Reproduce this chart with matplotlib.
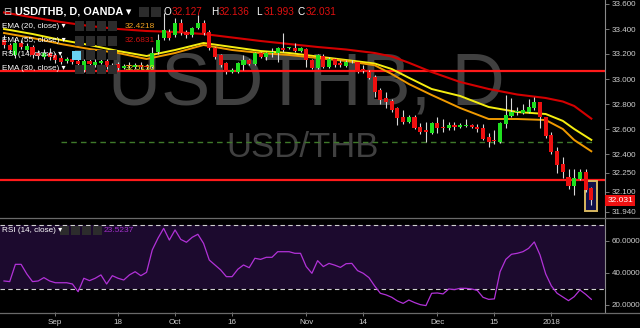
import numpy as np
import matplotlib
matplotlib.use("Agg")
import matplotlib.pyplot as plt
from matplotlib.patches import Rectangle
from matplotlib.lines import Line2D
import matplotlib.transforms as mtransforms

plt.rcParams["font.family"] = ["Liberation Sans", "DejaVu Sans"]

# USD/THB daily candles (bar index = trading day, Aug 21 2017 -> Jan 12 2018)
opens = [33.312, 33.272, 33.192, 33.288, 33.232, 33.256, 33.208, 33.176, 33.208, 33.192,
         33.168, 33.144, 33.160, 33.144, 33.072, 33.144, 33.112, 33.128, 33.144, 33.072,
         33.120, 33.088, 33.112, 33.096, 33.112, 33.104, 33.096, 33.216, 33.328, 33.376,
         33.352, 33.448, 33.376, 33.352, 33.408, 33.448, 33.376, 33.248, 33.192, 33.128,
         33.056, 33.056, 33.112, 33.152, 33.120, 33.208, 33.176, 33.208, 33.208, 33.248,
         33.248, 33.248, 33.224, 33.240, 33.152, 33.088, 33.184, 33.096, 33.160, 33.128,
         33.104, 33.134, 33.136, 33.080, 33.056, 33.016, 32.912, 32.848, 32.824, 32.768,
         32.696, 32.656, 32.696, 32.616, 32.592, 32.568, 32.648, 32.616, 32.608, 32.632,
         32.616, 32.624, 32.632, 32.616, 32.608, 32.536, 32.512, 32.496, 32.640, 32.704,
         32.736, 32.728, 32.736, 32.768, 32.816, 32.696, 32.552, 32.424, 32.320, 32.216,
         32.144, 32.200, 32.256, 32.127]
highs = [33.35, 33.29, 33.33, 33.31, 33.29, 33.27, 33.23, 33.24, 33.25, 33.21,
         33.19, 33.18, 33.17, 33.16, 33.16, 33.17, 33.16, 33.17, 33.16, 33.13,
         33.14, 33.12, 33.14, 33.13, 33.14, 33.12, 33.26, 33.36, 33.528, 33.40,
         33.49, 33.48, 33.39, 33.42, 33.512, 33.47, 33.39, 33.26, 33.20, 33.14,
         33.09, 33.14, 33.19, 33.16, 33.22, 33.22, 33.22, 33.25, 33.26, 33.368,
         33.26, 33.288, 33.26, 33.25, 33.16, 33.20, 33.20, 33.18, 33.17, 33.15,
         33.15, 33.15, 33.14, 33.11, 33.07, 33.03, 32.93, 32.896, 32.84, 32.78,
         32.752, 32.71, 32.71, 32.648, 32.656, 32.66, 32.70, 32.68, 32.66, 32.66,
         32.65, 32.68, 32.64, 32.64, 32.64, 32.57, 32.59, 32.66, 32.876, 32.85,
         32.78, 32.80, 32.84, 32.856, 32.82, 32.70, 32.58, 32.456, 32.38, 32.28,
         32.28, 32.28, 32.28, 32.136]
lows = [33.25, 33.21, 33.17, 33.24, 33.22, 33.17, 33.16, 33.16, 33.15, 33.13,
        33.12, 33.13, 33.12, 33.10, 33.06, 33.10, 33.10, 33.12, 33.08, 33.06,
        33.07, 33.08, 33.09, 33.08, 33.08, 33.08, 33.09, 33.20, 33.31, 33.31,
        33.34, 33.35, 33.33, 33.34, 33.40, 33.35, 33.23, 33.16, 33.10, 33.04,
        33.05, 33.05, 33.07, 33.11, 33.11, 33.17, 33.15, 33.18, 33.136, 33.22,
        33.24, 33.22, 33.22, 33.096, 33.08, 33.08, 33.09, 33.09, 33.10, 33.10,
        33.10, 33.13, 33.05, 33.05, 33.00, 32.86, 32.80, 32.768, 32.74, 32.632,
        32.64, 32.645, 32.60, 32.56, 32.496, 32.56, 32.57, 32.58, 32.59, 32.59,
        32.61, 32.62, 32.61, 32.58, 32.51, 32.46, 32.48, 32.49, 32.61, 32.70,
        32.71, 32.72, 32.73, 32.752, 32.608, 32.53, 32.40, 32.25, 32.21, 32.12,
        32.07, 32.19, 32.10, 31.993]
closes = [33.272, 33.232, 33.288, 33.256, 33.264, 33.192, 33.184, 33.208, 33.176, 33.152,
          33.136, 33.160, 33.136, 33.120, 33.144, 33.120, 33.136, 33.144, 33.096, 33.112,
          33.088, 33.104, 33.104, 33.112, 33.096, 33.096, 33.208, 33.312, 33.392, 33.328,
          33.448, 33.368, 33.352, 33.408, 33.448, 33.368, 33.248, 33.176, 33.112, 33.056,
          33.072, 33.128, 33.152, 33.120, 33.208, 33.176, 33.208, 33.216, 33.248, 33.232,
          33.248, 33.224, 33.248, 33.152, 33.088, 33.192, 33.096, 33.160, 33.112, 33.112,
          33.136, 33.136, 33.056, 33.064, 33.008, 32.896, 32.832, 32.816, 32.752, 32.688,
          32.656, 32.696, 32.608, 32.576, 32.576, 32.648, 32.608, 32.608, 32.632, 32.616,
          32.632, 32.632, 32.616, 32.600, 32.520, 32.496, 32.504, 32.648, 32.712, 32.736,
          32.744, 32.752, 32.776, 32.816, 32.696, 32.544, 32.416, 32.312, 32.256, 32.144,
          32.208, 32.256, 32.112, 32.031]

# EMA lines (bar index, value)
ema_idx = [0, 5, 10, 15, 20, 25, 30, 35, 40, 45, 50, 55, 60, 65, 68, 71, 75, 80, 85, 90, 95, 98, 100, 103]
ema20 = [33.368, 33.328, 33.280, 33.240, 33.208, 33.160, 33.208, 33.272, 33.232, 33.208, 33.192,
         33.168, 33.144, 33.110, 33.040, 32.960, 32.872, 32.768, 32.680, 32.680, 32.672, 32.600,
         32.512, 32.4218]
ema30 = [33.400, 33.360, 33.312, 33.272, 33.224, 33.184, 33.232, 33.288, 33.256, 33.224, 33.208,
         33.180, 33.152, 33.124, 33.080, 33.010, 32.920, 32.864, 32.776, 32.736, 32.720, 32.665,
         32.600, 32.5130]
ema55 = [33.532, 33.493, 33.456, 33.424, 33.400, 33.384, 33.376, 33.360, 33.332, 33.304, 33.280,
         33.256, 33.236, 33.208, 33.180, 33.130, 33.056, 32.976, 32.920, 32.876, 32.848, 32.820,
         32.784, 32.6831]

rsi = [35.0, 34.6, 45.4, 45.4, 39.4, 34.6, 35.0, 37.1, 35.0, 33.9,
       33.9, 33.9, 33.1, 28.3, 36.7, 35.2, 36.7, 38.8, 33.1, 38.3,
       36.7, 35.6, 38.8, 40.8, 38.3, 40.4, 54.4, 61.7, 67.9, 60.6,
       66.9, 61.0, 59.2, 62.3, 64.2, 58.5, 48.1, 45.0, 41.9, 37.7,
       37.7, 42.3, 45.0, 43.3, 49.2, 48.5, 49.8, 49.8, 53.3, 53.3,
       53.3, 52.3, 52.3, 44.0, 39.8, 47.7, 44.0, 46.0, 44.9, 43.5,
       45.8, 46.0, 41.5, 39.8, 37.1, 31.9, 27.3, 26.3, 24.8, 22.5,
       21.0, 23.1, 21.5, 20.2, 19.6, 27.3, 27.5, 26.9, 30.0, 29.6,
       30.4, 30.4, 30.0, 29.1, 24.8, 23.5, 23.8, 40.8, 48.5, 51.7,
       52.3, 53.3, 55.4, 59.4, 51.3, 39.4, 31.9, 27.3, 25.0, 22.7,
       25.2, 29.4, 26.7, 23.5237]

date_labels = ["Sep", "18", "Oct", "16", "Nov", "14", "Dec", "15", "2018"]
date_pos = [9, 20, 30, 40, 53, 63, 76, 86, 96]
price_ticks = [33.6, 33.4, 33.2, 33.0, 32.8, 32.6, 32.4, 32.25, 32.1, 31.94]
rsi_ticks = [20, 40, 60]

level_hi = 33.064
level_lo = 32.195
level_mid = 32.50

BG = "#000000"
TXT = "#cfcfcf"
UP = "#1fe01f"
DOWN = "#ee1010"
W, H = 640, 328


def fx(x):
    return x / W


def fy(y):
    return 1 - y / H


fig = plt.figure(figsize=(6.4, 3.28), dpi=100, facecolor=BG)
ax = fig.add_axes([0, fy(217), fx(605), 217 / H])
axr = fig.add_axes([0, fy(312), fx(605), 93 / H], sharex=ax)

o = np.array(opens)
c = np.array(closes)
hi = np.array(highs)
lo = np.array(lows)
x = np.arange(len(o))
n = len(x)

for a in (ax, axr):
    a.set_facecolor(BG)
    for s in ("top", "left", "bottom"):
        a.spines[s].set_visible(False)
    a.spines["right"].set_color("#8a8a8a")
    a.spines["right"].set_linewidth(0.8)
    a.yaxis.tick_right()
    a.tick_params(axis="y", colors="#8a8a8a", labelcolor=TXT, labelsize=5.8,
                  length=3, width=0.6, pad=2)

ax.set_xlim(-0.7, 105.4)
ax.set_ylim(31.896, 33.632)
axr.set_ylim(15.6, 73.75)

# watermark
ax.text(0.506, 0.61, "USDTHB, D", transform=ax.transAxes, ha="center", va="center",
        fontsize=53, color="#404040", zorder=0)
ax.text(0.50, 0.32, "USD/THB", transform=ax.transAxes, ha="center", va="center",
        fontsize=25, color="#404040", zorder=0)

# levels
ax.axhline(level_hi, color="#ff1a1a", lw=1.6, zorder=2)
ax.axhline(level_lo, color="#ff1a1a", lw=1.6, zorder=2)
ax.hlines(level_mid, 10, n - 0.5, colors="#3f7a2a", linestyles=(0, (4, 3)), lw=1.0, zorder=2)

# emas
ax.plot(ema_idx, ema55, color="#d40000", lw=1.5, zorder=3)
ax.plot(ema_idx, ema30, color="#f5ee10", lw=1.4, zorder=3)
ax.plot(ema_idx, ema20, color="#f09a00", lw=1.4, zorder=3)

# highlight last candle
ax.add_patch(Rectangle((x[-1] - 1.05, lo[-1] - 0.045), 2.1, hi[-1] - lo[-1] + 0.09,
                       facecolor="#10104a", edgecolor="#d8b860", lw=1.4, zorder=4))

# candles
up = c >= o
body = np.where(np.abs(c - o) < 0.005, 0.005, c - o)
ax.vlines(x, lo, hi, colors="#d8d8d8", lw=0.8, zorder=5)
ax.bar(x, body, bottom=o, width=0.72, color=np.where(up, UP, DOWN), zorder=6)

ax.set_yticks(price_ticks)
ax.set_yticklabels([f"{v:.3f}" for v in price_ticks])
ax.tick_params(axis="x", bottom=False, labelbottom=False)

# last price label
trans = mtransforms.blended_transform_factory(ax.transAxes, ax.transData)
ax.text(1.004, closes[-1], f"{closes[-1]:.3f}", transform=trans, ha="left", va="center",
        fontsize=6, color="white", zorder=10, clip_on=False,
        bbox=dict(boxstyle="square,pad=0.25", facecolor="#ee1111", edgecolor="none"))

# rsi panel
axr.axhspan(30, 70, color="#1c0a2e", lw=0, zorder=0)
axr.axhline(70, color="#d0d0d0", ls=(0, (4, 3)), lw=0.8, zorder=1)
axr.axhline(30, color="#d0d0d0", ls=(0, (4, 3)), lw=0.8, zorder=1)
axr.plot(x, rsi, color="#b232d8", lw=0.9, zorder=2)
axr.set_yticks(rsi_ticks)
axr.set_yticklabels([f"{v:.4f}" for v in rsi_ticks])
axr.set_xticks(date_pos)
axr.set_xticklabels(date_labels)
axr.tick_params(axis="x", colors="#8a8a8a", labelcolor=TXT, labelsize=5.8,
                length=3, width=0.6, pad=2)

# panel separators
for yy in (217.5, 312.5):
    fig.add_artist(Line2D([0, 1], [fy(yy), fy(yy)], color="#6a6a6a", lw=0.9))

# legend block
fig.text(fx(3), fy(12), "\u229f", color="#d0d0d0", fontsize=7, va="center",
         family=["DejaVu Sans"])
fig.text(fx(15), fy(12), "USD/THB, D, OANDA \u25be", color="white", fontsize=7.8,
         fontweight="bold", va="center")


def icons(x0, yc, k, size=9, gap=2):
    for i in range(k):
        fig.add_artist(Rectangle((fx(x0 + i * (size + gap)), fy(yc + size / 2)),
                                 size / W, size / H, facecolor="#2c2c2c", edgecolor="none"))


icons(139, 12, 2, size=10)
ohlc = [("O", opens[-1]), ("H", highs[-1]), ("L", lows[-1]), ("C", closes[-1])]
for (lab, val), xx in zip(ohlc, [164, 211, 256, 298]):
    fig.text(fx(xx), fy(12), lab, color="white", fontsize=7.2, va="center")
    fig.text(fx(xx + 7.5), fy(12), f"{val:.3f}", color="#e01010", fontsize=7.2, va="center")

rows = [("EMA (20, close) \u25be", 26, f"{ema20[-1]:.4f}", "#f0a020"),
        ("EMA (55, close) \u25be", 41, f"{ema55[-1]:.4f}", "#d01010"),
        ("RSI (14, close) \u25be", 55, None, None),
        ("EMA (30, close) \u25be", 69, f"{ema30[-1]:.4f}", "#f0e020")]
for lab, yy, val, col in rows:
    fig.text(fx(2), fy(yy), lab, color="white", fontsize=5.9, va="center")
    icons(75, yy, 4)
    if val is not None:
        fig.text(fx(125), fy(yy), val, color=col, fontsize=6, va="center")
fig.add_artist(Rectangle((fx(72), fy(60)), 9 / W, 9 / H, facecolor="#6ad0f0", edgecolor="none"))

fig.text(fx(2), fy(230), "RSI (14, close) \u25be", color="white", fontsize=5.9, va="center")
icons(60, 230, 4)
fig.text(fx(104), fy(230), f"{rsi[-1]:.4f}", color="#a030c8", fontsize=6, va="center")

fig.savefig("out.png", dpi=100, facecolor=BG)
